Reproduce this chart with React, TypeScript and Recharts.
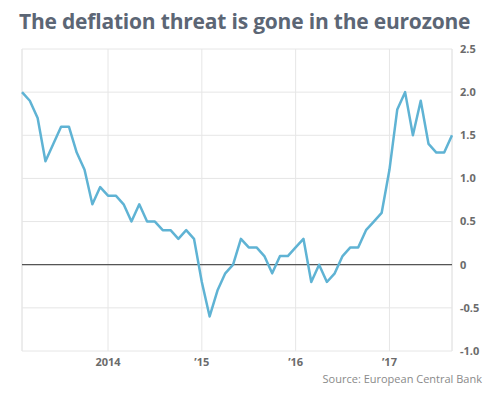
import React from "react";
import { LineChart, Line, XAxis, YAxis, CartesianGrid, ReferenceLine } from "recharts";

const monthIndex: number[] = Array.from({ length: 56 }, (_, i) => i + 1); // Jan 2013 .. Aug 2017
const inflation: number[] = [
  2.0, 1.9, 1.7, 1.2, 1.4, 1.6, 1.6, 1.3, 1.1, 0.7, 0.9, 0.8,
  0.8, 0.7, 0.5, 0.7, 0.5, 0.5, 0.4, 0.4, 0.3, 0.4, 0.3, -0.2,
  -0.6, -0.3, -0.1, 0.0, 0.3, 0.2, 0.2, 0.1, -0.1, 0.1, 0.1, 0.2,
  0.3, -0.2, 0.0, -0.2, -0.1, 0.1, 0.2, 0.2, 0.4, 0.5, 0.6, 1.1,
  1.8, 2.0, 1.5, 1.9, 1.4, 1.3, 1.3, 1.5,
];
const xTickPositions: number[] = [12, 24, 36, 48];
const xTickLabels: string[] = ["2014", "\u201915", "\u201916", "\u201917"];
const yTicks: number[] = [-1.0, -0.5, 0, 0.5, 1.0, 1.5, 2.0, 2.5];

const data = monthIndex.map((m, i) => ({ m, v: inflation[i] }));

const FONT = "'Open Sans', 'Noto Sans', sans-serif";

export default function App() {
  return (
    <div style={{ position: "relative", width: 500, height: 397, margin: -8, background: "#fff", fontFamily: FONT }}>
      <div
        style={{
          position: "absolute",
          left: 19,
          top: 7,
          fontSize: 21,
          fontWeight: 700,
          color: "#5c6675",
          whiteSpace: "nowrap",
          letterSpacing: -0.2,
        }}
      >
        The deflation threat is gone in the eurozone
      </div>
      <div style={{ position: "absolute", left: 0, top: 0 }}>
        <LineChart width={500} height={397} data={data} margin={{ top: 49, left: 22, right: 0, bottom: 16 }}>
          <CartesianGrid stroke="#e6e6e6" strokeWidth={1} />
          <XAxis
            dataKey="m"
            type="number"
            domain={[1, 56]}
            ticks={xTickPositions}
            tickFormatter={(v: number) => xTickLabels[xTickPositions.indexOf(v)] ?? ""}
            axisLine={false}
            tickLine={false}
            tickSize={6}
            tickMargin={1}
            height={30}
            tick={{ fill: "#6b6b6b", fontSize: 11, fontWeight: 700, fontFamily: FONT }}
          />
          <YAxis
            orientation="right"
            type="number"
            domain={[-1, 2.5]}
            ticks={yTicks}
            tickFormatter={(v: number) => (v === 0 ? "0" : v.toFixed(1))}
            axisLine={false}
            tickLine={false}
            tickSize={6}
            tickMargin={2}
            width={48}
            tick={{ fill: "#6b6b6b", fontSize: 11, fontWeight: 700, fontFamily: FONT, textAnchor: "start" }}
          />
          <ReferenceLine x={1} stroke="#e6e6e6" />
          <ReferenceLine x={56} stroke="#e6e6e6" />
          <ReferenceLine y={0} stroke="#555555" strokeWidth={1.2} />
          <Line
            dataKey="v"
            stroke="#5fb3d4"
            strokeWidth={2.5}
            dot={false}
            isAnimationActive={false}
            strokeLinejoin="round"
          />
        </LineChart>
      </div>
      <div
        style={{
          position: "absolute",
          right: 18,
          top: 371,
          fontSize: 11,
          color: "#8a8a8a",
          whiteSpace: "nowrap",
        }}
      >
        Source: European Central Bank
      </div>
    </div>
  );
}
